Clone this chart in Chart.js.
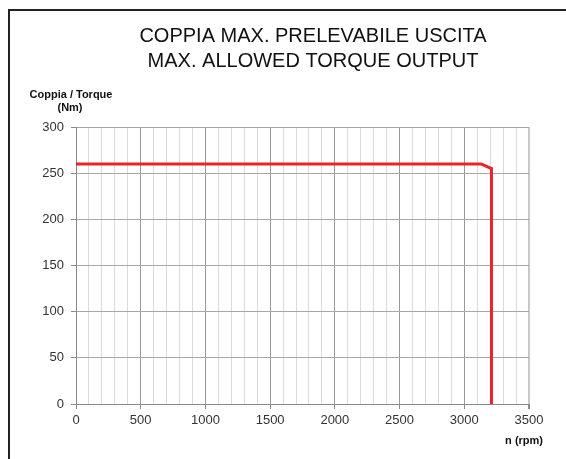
<!DOCTYPE html>
<html>
<head>
<meta charset="utf-8">
<script src="https://cdn.jsdelivr.net/npm/chart.js@4.4.0/dist/chart.umd.min.js"></script>
<style>
  html, body { margin: 0; padding: 0; background: #fff; }
  #wrap { position: relative; width: 566px; height: 459px; overflow: hidden; }
  #frame {
    position: absolute; left: 8px; top: 9px; width: 700px; height: 600px;
    border-left: 2px solid #222; border-top: 2px solid #222;
  }
  canvas { position: absolute; left: 0; top: 0; }
</style>
</head>
<body>
<div id="wrap">
  <div id="frame"></div>
  <canvas id="torqueChart" width="566" height="459"></canvas>
</div>
<script>
// curve
const rpm = [0, 3130, 3210, 3210];
const torque = [260, 260, 255, 0];

const titleLines = ["COPPIA MAX. PRELEVABILE USCITA", "MAX. ALLOWED TORQUE OUTPUT"];
const yTitle = ["Coppia / Torque", "(Nm)"];
const xTitle = "n (rpm)";

const xMin = 0, xMax = 3500, xStep = 100, xLabelStep = 500;
const yMin = 0, yMax = 300, yStep = 50;

const FONT = "'Liberation Sans', Arial, sans-serif";

// titles are drawn by hand so they can sit where the original has them
const textPlugin = {
  id: "extraText",
  afterDraw(chart) {
    const c = chart.ctx;
    c.save();
    c.fillStyle = "#111";
    c.textAlign = "center";
    c.textBaseline = "alphabetic";
    c.font = "20px " + FONT;
    c.fillText(titleLines[0], 313, 42);
    c.fillText(titleLines[1], 313, 67);

    c.font = "bold 11px " + FONT;
    c.fillText(yTitle[0], 71, 98);
    c.fillText(yTitle[1], 70, 111);

    c.textAlign = "right";
    c.fillText(xTitle, 543, 444);
    c.restore();
  }
};

const ctx = document.getElementById("torqueChart").getContext("2d");

new Chart(ctx, {
  type: "line",
  data: {
    datasets: [{
      data: rpm.map((r, i) => ({ x: r, y: torque[i] })),
      borderColor: "#e8232b",
      borderWidth: 3,
      pointRadius: 0,
      fill: false,
      tension: 0
    }]
  },
  options: {
    responsive: false,
    animation: false,
    layout: {
      padding: { left: 0, top: 127, right: 37, bottom: 0 }
    },
    plugins: {
      legend: { display: false },
      title: { display: false },
      tooltip: { enabled: false }
    },
    scales: {
      x: {
        type: "linear",
        min: xMin,
        max: xMax,
        afterFit: s => { s.height = 55; },
        border: { color: "#8a8a8a", width: 1 },
        grid: {
          color: c => c.tick.value === xMax ? "#c8c8c8" : (c.tick.value % xLabelStep === 0 ? "#9a9a9a" : "#dadada"),
          lineWidth: c => c.tick.value === xMax ? 2 : 1,
          tickColor: c => c.tick.value % xLabelStep === 0 ? "#8a8a8a" : "rgba(0,0,0,0)",
          tickLength: 5
        },
        ticks: {
          stepSize: xStep,
          autoSkip: false,
          maxRotation: 0,
          padding: 4,
          color: "#333",
          font: { size: 13, family: FONT },
          callback: v => v % xLabelStep === 0 ? v : ""
        }
      },
      y: {
        min: yMin,
        max: yMax,
        afterFit: s => { s.width = 76; },
        border: { color: "#8a8a8a", width: 1 },
        grid: {
          color: "#a8a8a8",
          tickColor: "#8a8a8a",
          tickLength: 5
        },
        ticks: {
          stepSize: yStep,
          padding: 7,
          color: "#333",
          font: { size: 13, family: FONT }
        }
      }
    }
  },
  plugins: [textPlugin]
});
</script>
</body>
</html>
